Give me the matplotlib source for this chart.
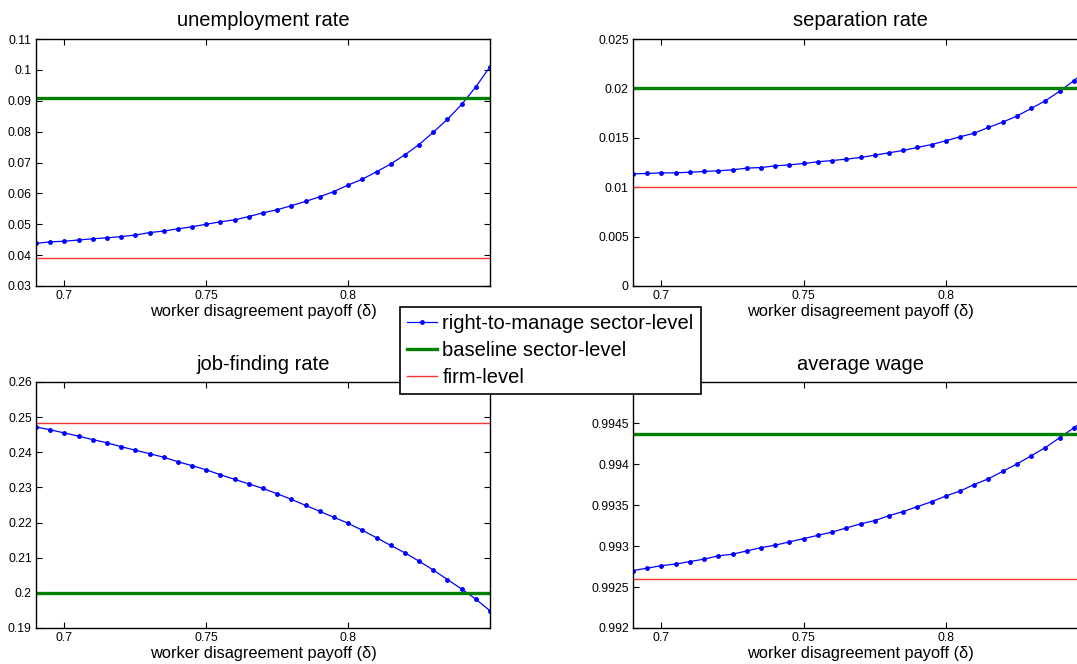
import numpy as np
import matplotlib
matplotlib.use("Agg")
import matplotlib.pyplot as plt
from matplotlib.ticker import FuncFormatter

plt.rcParams['font.family'] = ['Liberation Sans', 'DejaVu Sans']

# worker disagreement payoff grid
delta = [0.69, 0.695, 0.70, 0.705, 0.71, 0.715, 0.72, 0.725, 0.73, 0.735, 0.74,
         0.745, 0.75, 0.755, 0.76, 0.765, 0.77, 0.775, 0.78, 0.785, 0.79, 0.795,
         0.80, 0.805, 0.81, 0.815, 0.82, 0.825, 0.83, 0.835, 0.84, 0.845, 0.85]

# right-to-manage sector-level series
unemp = [0.0438, 0.0443, 0.0445, 0.0449, 0.0453, 0.0456, 0.0460, 0.0465, 0.0473,
         0.0478, 0.0485, 0.0492, 0.0500, 0.0508, 0.0514, 0.0525, 0.0537, 0.0547,
         0.0560, 0.0574, 0.0589, 0.0606, 0.0627, 0.0646, 0.0670, 0.0695, 0.0725,
         0.0758, 0.0798, 0.0840, 0.0888, 0.0945, 0.1010]
sep = [0.01135, 0.01139, 0.01145, 0.01145, 0.01152, 0.01159, 0.01166, 0.01176,
       0.01193, 0.01199, 0.01216, 0.01226, 0.01240, 0.01257, 0.01270, 0.01284,
       0.01301, 0.01324, 0.01348, 0.01372, 0.01402, 0.01432, 0.01470, 0.01510,
       0.01547, 0.01605, 0.01659, 0.01720, 0.01797, 0.01875, 0.01970, 0.02078,
       0.02200]
jobfind = [0.2472, 0.2464, 0.2455, 0.2446, 0.2436, 0.2427, 0.2416, 0.2406, 0.2396,
           0.2386, 0.2373, 0.2362, 0.2350, 0.2336, 0.2323, 0.2310, 0.2297, 0.2282,
           0.2266, 0.2249, 0.2232, 0.2215, 0.2198, 0.2178, 0.2157, 0.2135, 0.2114,
           0.2090, 0.2065, 0.2038, 0.2011, 0.1982, 0.1949]
wage = [0.99270, 0.99273, 0.99276, 0.99278, 0.99281, 0.99284, 0.99288, 0.99290,
        0.99294, 0.99298, 0.99301, 0.99305, 0.99309, 0.99313, 0.99317, 0.99322,
        0.99327, 0.99331, 0.99337, 0.99342, 0.99348, 0.99354, 0.99361, 0.99367,
        0.99375, 0.99382, 0.99391, 0.99400, 0.99410, 0.99420, 0.99432, 0.99444,
        0.99458]

# constant benchmarks: (baseline sector-level, firm-level)
unemp_ref = (0.0909, 0.0390)
sep_ref = (0.0200, 0.0100)
jobfind_ref = (0.2001, 0.2484)
wage_ref = (0.99436, 0.99260)

titles = ['unemployment rate', 'separation rate', 'job-finding rate', 'average wage']
series = [unemp, sep, jobfind, wage]
refs = [unemp_ref, sep_ref, jobfind_ref, wage_ref]
ylims = [(0.03, 0.11), (0.0, 0.025), (0.19, 0.26), (0.992, 0.995)]
ysteps = [0.01, 0.005, 0.01, 0.0005]
xticks = [0.7, 0.75, 0.8]

W, H = 1077, 664
fig = plt.figure(figsize=(W / 100, H / 100), dpi=100)

# axes boxes in pixels: left, top, right, bottom
boxes = [(36, 39, 490, 286), (633, 39, 1088, 286),
         (36, 382, 490, 628), (633, 382, 1088, 628)]

fmt = FuncFormatter(lambda v, _: '%g' % round(v, 6))

for i in range(4):
    l, t, r, b = boxes[i]
    ax = fig.add_axes([l / W, 1 - b / H, (r - l) / W, (b - t) / H])
    h1, = ax.plot(delta, series[i], color='b', lw=0.9, marker='.', ms=5,
                  label='right-to-manage sector-level')
    h2 = ax.axhline(refs[i][0], color=(0, 0.5, 0), lw=2.4, label='baseline sector-level')
    h3 = ax.axhline(refs[i][1], color=(1, 0.2, 0.2), lw=1.0, label='firm-level')
    ax.set_xlim(0.69, 0.85)
    ax.set_ylim(*ylims[i])
    lo, hi = ylims[i]
    ax.set_yticks(np.arange(lo, hi + ysteps[i] / 2, ysteps[i]))
    ax.set_xticks(xticks)
    ax.xaxis.set_major_formatter(fmt)
    ax.yaxis.set_major_formatter(fmt)
    ax.tick_params(direction='in', length=4, width=0.8, labelsize=8.7,
                   top=True, right=True, pad=3)
    for s in ax.spines.values():
        s.set_linewidth(1.0)
    ax.set_title(titles[i], fontsize=14.5, pad=9)
    ax.set_xlabel(u'worker disagreement payoff (\u03b4)', fontsize=11.8, labelpad=1)

leg = fig.legend(handles=[h1, h2, h3], loc='upper left',
                 bbox_to_anchor=(400 / W, 1 - 307 / H), fontsize=14.5,
                 frameon=True, fancybox=False, edgecolor='k', framealpha=1,
                 handlelength=1.5, handletextpad=0.25, borderpad=0.35,
                 labelspacing=0.4, borderaxespad=0)
leg.get_frame().set_linewidth(1.2)

fig.savefig('out.png', dpi=100)
